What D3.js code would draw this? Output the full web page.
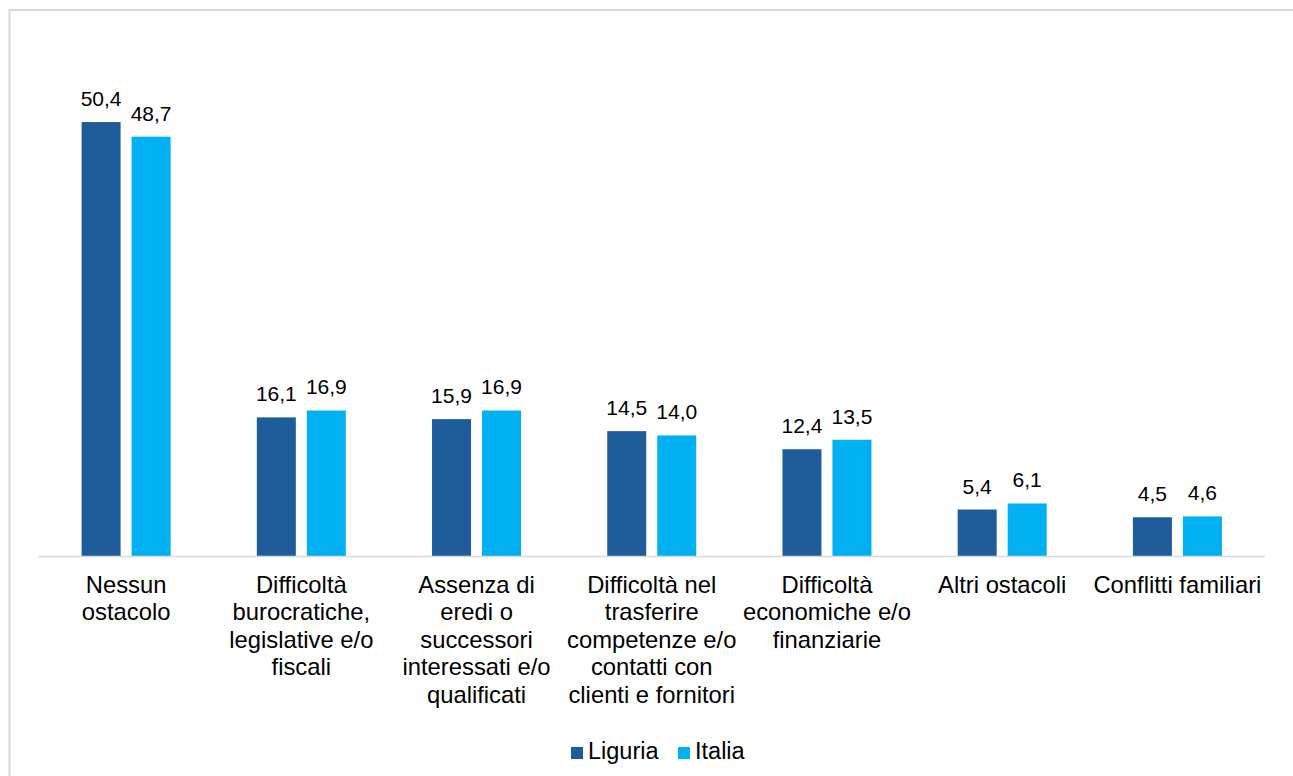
<!DOCTYPE html>
<html><head><meta charset="utf-8">
<script src="https://cdn.jsdelivr.net/npm/d3@7"></script>
<style>body{margin:0;background:#fff;font-family:"Liberation Sans",Arial,sans-serif;}</style>
</head><body>
<svg id="c" width="1293" height="776"></svg>
<script>
const categories = [
  ["Nessun","ostacolo"],
  ["Difficoltà","burocratiche,","legislative e/o","fiscali"],
  ["Assenza di","eredi o","successori","interessati e/o","qualificati"],
  ["Difficoltà nel","trasferire","competenze e/o","contatti con","clienti e fornitori"],
  ["Difficoltà","economiche e/o","finanziarie"],
  ["Altri ostacoli"],
  ["Conflitti familiari"]
];
const seriesNames = ["Liguria","Italia"];
const liguria = [50.4,16.1,15.9,14.5,12.4,5.4,4.5];
const italia  = [48.7,16.9,16.9,14.0,13.5,6.1,4.6];
const colors = ["#1F5C9B","#00B0F0"];

const svg = d3.select("#c");
svg.append("rect").attr("x",9.5).attr("y",10).attr("width",1400).attr("height",900)
  .attr("fill","none").attr("stroke","#d9d9d9").attr("stroke-width",2);

const x0 = d3.scaleBand().domain(d3.range(categories.length)).range([38.5,1265]).paddingInner(0).paddingOuter(0);
const y = d3.scaleLinear().domain([0,60]).range([556,39.4]);
const bw = 39, gap = 11;
const data = [liguria, italia];

const g = svg.append("g");
data.forEach((vals,si)=>{
  vals.forEach((v,i)=>{
    const cx = x0(i)+x0.bandwidth()/2;
    const bx = si===0 ? cx-gap/2-bw : cx+gap/2;
    g.append("rect").attr("x",bx).attr("y",y(v)).attr("width",bw).attr("height",y(0)-y(v)).attr("fill",colors[si]);
    g.append("text").attr("x",bx+bw/2).attr("y",y(v)-16).attr("text-anchor","middle")
      .attr("font-size",21).attr("fill","#000").text(d3.format(".1f")(v).replace(".",","));
  });
});
svg.append("line").attr("x1",38.5).attr("x2",1265).attr("y1",556.5).attr("y2",556.5).attr("stroke","#d9d9d9").attr("stroke-width",1.5);

categories.forEach((lines,i)=>{
  const cx = x0(i)+x0.bandwidth()/2;
  const t = svg.append("text").attr("text-anchor","middle").attr("font-size",23.8).attr("fill","#000");
  lines.forEach((l,k)=>t.append("tspan").attr("x",cx).attr("y",592.5+k*27.6).text(l));
});

const leg = svg.append("g");
const lx = [571,678];
seriesNames.forEach((n,i)=>{
  leg.append("rect").attr("x",lx[i]).attr("y",747).attr("width",12).attr("height",12).attr("fill",colors[i]);
  leg.append("text").attr("x",lx[i]+17).attr("y",759).attr("font-size",23.5).attr("fill","#000").text(n);
});
</script>
</body></html>
